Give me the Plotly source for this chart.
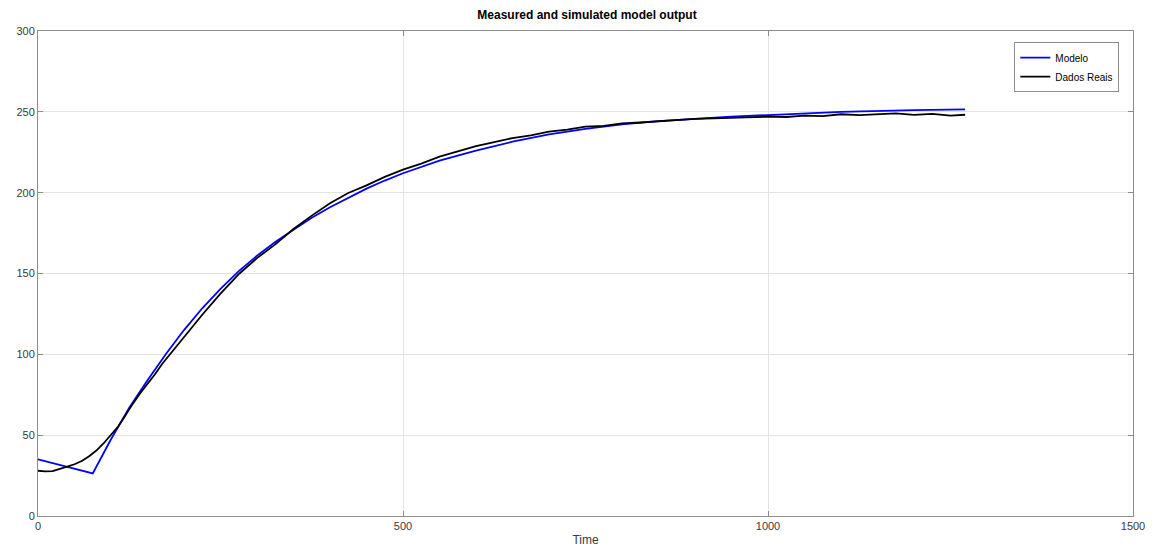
import plotly.graph_objects as go

# Model (simulated) output
model_t = [0, 25, 50, 75, 100, 125, 150, 175, 200, 225, 250, 275, 300, 325, 350, 375, 400,
           425, 450, 475, 500, 550, 600, 650, 700, 750, 800, 850, 900, 950, 1000, 1100, 1200, 1270]
model_y = [35.0, 32.0, 29.2, 26.3, 47.5, 67.0, 84.0, 100.0, 115.0, 128.5, 140.5, 151.5, 161.0,
           169.5, 177.0, 184.5, 191.0, 197.0, 202.5, 207.5, 212.0, 219.8, 226.0, 231.5, 236.0,
           239.5, 242.2, 244.2, 245.8, 247.0, 248.0, 250.0, 251.0, 251.5]

# Measured data (Dados Reais)
meas_t = [0, 10, 20, 30, 40, 50, 60, 70, 80, 90, 100, 110, 116, 120, 130, 140, 150, 160, 170,
          180, 200, 225, 250, 276, 300, 325, 350, 375, 400, 425, 450, 475, 500, 525, 550, 575,
          600, 625, 650, 675, 700, 725, 750, 775, 800, 825, 850, 875, 900, 925, 950, 975, 1000,
          1025, 1050, 1075, 1100, 1125, 1150, 1175, 1200, 1225, 1250, 1270]
meas_y = [28.0, 27.6, 27.8, 29.0, 30.5, 32.0, 34.0, 37.0, 40.5, 45.0, 50.0, 55.5, 59.5, 62.5,
          69.5, 76.0, 81.5, 87.5, 94.0, 99.5, 111.0, 124.5, 137.5, 150.0, 159.5, 168.0, 177.5,
          185.8, 193.5, 199.8, 204.5, 209.8, 214.2, 218.0, 222.3, 225.5, 228.8, 231.3, 233.8,
          235.5, 237.8, 239.0, 240.8, 241.3, 242.8, 243.4, 244.2, 244.6, 245.6, 245.9, 246.3,
          246.4, 247.0, 246.8, 247.6, 247.3, 248.5, 248.0, 248.6, 249.0, 248.1, 248.7, 247.7, 248.2]

x_ticks = [0, 500, 1000, 1500]
y_ticks = [0, 50, 100, 150, 200, 250, 300]

axis_gray = "#8c8c8c"
text_gray = "#3a3a3a"
font_family = "Liberation Sans, Arial, sans-serif"

fig = go.Figure()
fig.add_trace(go.Scatter(x=model_t, y=model_y, mode="lines", name="Modelo",
                         line=dict(color="#0000ff", width=1.8)))
fig.add_trace(go.Scatter(x=meas_t, y=meas_y, mode="lines", name="Dados Reais",
                         line=dict(color="#000000", width=1.8)))

fig.update_layout(
    width=1157, height=559,
    margin=dict(l=38, r=21, t=31, b=43),
    paper_bgcolor="white", plot_bgcolor="white",
    font=dict(family=font_family, size=11, color=text_gray),
    title=dict(text="<b>Measured and simulated model output</b>",
               x=(38 + 1098 / 2) / 1157, xanchor="center",
               y=1 - 15 / 559, yanchor="middle", yref="container",
               font=dict(size=12, color="#000000", family=font_family)),
    showlegend=True,
    legend=dict(x=0.9875, xanchor="right", y=0.977, yanchor="top",
                bgcolor="white", bordercolor=axis_gray, borderwidth=1,
                font=dict(size=10, color="#000000"),
                tracegroupgap=0, itemwidth=30),
)
fig.update_xaxes(range=[0, 1500], tickvals=x_ticks, ticktext=[str(v) for v in x_ticks],
                 showgrid=True, gridcolor="#e3e3e3", gridwidth=1,
                 showline=True, linecolor=axis_gray, linewidth=1, mirror="ticks",
                 ticks="inside", ticklen=5, tickcolor=axis_gray, zeroline=False,
                 title=dict(text="Time", standoff=4, font=dict(size=12, color=text_gray)))
fig.update_yaxes(range=[0, 300], tickvals=y_ticks, ticktext=[str(v) for v in y_ticks],
                 showgrid=True, gridcolor="#e3e3e3", gridwidth=1,
                 showline=True, linecolor=axis_gray, linewidth=1, mirror="ticks",
                 ticks="inside", ticklen=5, tickcolor=axis_gray, zeroline=False)

fig.write_html("out.html")
